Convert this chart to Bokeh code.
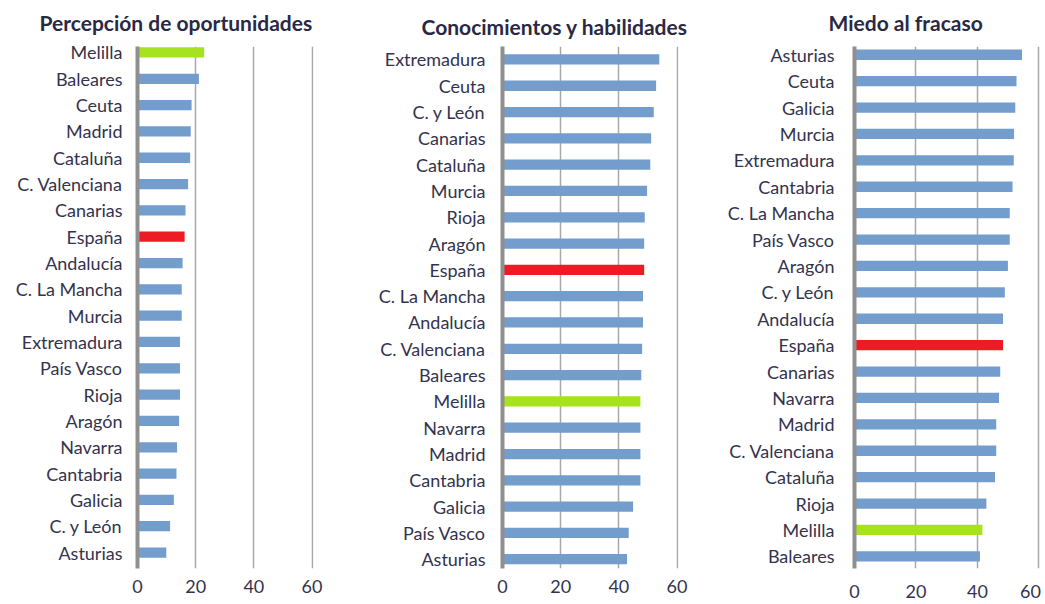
from bokeh.plotting import figure
from bokeh.layouts import row
from bokeh.models import FixedTicker, Title
from bokeh.embed import file_html
from bokeh.resources import INLINE

# ---- data (top to bottom as shown) ----
titles = ["Percepción de oportunidades", "Conocimientos y habilidades", "Miedo al fracaso"]

cats1 = ["Melilla", "Baleares", "Ceuta", "Madrid", "Cataluña", "C. Valenciana", "Canarias",
         "España", "Andalucía", "C. La Mancha", "Murcia", "Extremadura", "País Vasco", "Rioja",
         "Aragón", "Navarra", "Cantabria", "Galicia", "C. y León", "Asturias"]
vals1 = [22.9, 21.1, 18.6, 18.3, 18.1, 17.4, 16.5, 16.2, 15.5, 15.2, 15.2, 14.6, 14.6, 14.6,
         14.3, 13.6, 13.4, 12.5, 11.2, 9.9]

cats2 = ["Extremadura", "Ceuta", "C. y León", "Canarias", "Cataluña", "Murcia", "Rioja", "Aragón",
         "España", "C. La Mancha", "Andalucía", "C. Valenciana", "Baleares", "Melilla", "Navarra",
         "Madrid", "Cantabria", "Galicia", "País Vasco", "Asturias"]
vals2 = [53.9, 52.8, 52.0, 51.1, 50.8, 49.7, 48.9, 48.7, 48.7, 48.3, 48.3, 48.0, 47.7, 47.4, 47.4,
         47.4, 47.4, 44.9, 43.4, 42.8]

cats3 = ["Asturias", "Ceuta", "Galicia", "Murcia", "Extremadura", "Cantabria", "C. La Mancha",
         "País Vasco", "Aragón", "C. y León", "Andalucía", "España", "Canarias", "Navarra", "Madrid",
         "C. Valenciana", "Cataluña", "Rioja", "Melilla", "Baleares"]
vals3 = [54.5, 52.7, 52.3, 51.9, 51.8, 51.4, 50.5, 50.5, 49.9, 48.9, 48.3, 48.3, 47.4, 47.0, 46.1,
         46.1, 45.7, 42.9, 41.6, 40.8]

x_ticks = [0, 20, 40, 60]

BLUE = "#739DCD"
RED = "#ED1C24"
GREEN = "#A6E21E"
TXT = "#34334e"
TTL = "#2a2943"
FONT = "Lato"
H = 604
TOP = 46        # frame top (shared by the row)
BOT = 570       # frame bottom (shared by the row)
X_END = 60.5    # a little past 60 so that the 60 grid line is drawn


def color_for(c):
    if c == "España":
        return RED
    if c == "Melilla":
        return GREEN
    return BLUE


def panel(title, cats, vals, width, fl, px60, y_lo, y_hi, t_offset, t_standoff, t_valign,
          lab_standoff, tick_standoff, last_label="60"):
    n = len(cats)
    ys = [n - 1 - i for i in range(n)]
    fr = fl + px60 * X_END / 60.0
    p = figure(width=width, height=H, x_range=(0, X_END), y_range=(y_lo, y_hi),
               output_backend="svg", toolbar_location=None, title=None,
               min_border_left=fl, min_border_right=int(round(width - fr)),
               min_border_top=TOP, min_border_bottom=H - BOT)
    p.add_layout(Title(text=title, align="left", offset=t_offset, standoff=t_standoff,
                       vertical_align=t_valign,
                       text_font=FONT, text_font_size="21px", text_font_style="bold",
                       text_color=TTL), "above")
    p.hbar(y=ys, right=vals, left=0, height=0.39,
           fill_color=[color_for(c) for c in cats], line_color=None)
    p.outline_line_color = None
    # x grid / axis
    p.xgrid.ticker = FixedTicker(ticks=[20, 40, 60])
    p.xgrid.grid_line_color = "#a8a8a8"
    p.xgrid.grid_line_width = 1.5
    p.ygrid.grid_line_color = None
    p.xaxis.ticker = FixedTicker(ticks=x_ticks)
    p.xaxis.major_label_overrides = {60: last_label}
    p.xaxis.axis_line_color = None
    p.xaxis.major_tick_line_color = None
    p.xaxis.minor_tick_line_color = None
    p.xaxis.major_tick_out = 0
    p.xaxis.major_label_standoff = tick_standoff
    p.xaxis.major_label_text_font = FONT
    p.xaxis.major_label_text_font_size = "18px"
    p.xaxis.major_label_text_color = TXT
    # y axis with category labels
    p.yaxis.ticker = FixedTicker(ticks=ys)
    p.yaxis.major_label_overrides = {y: c for y, c in zip(ys, cats)}
    p.yaxis.axis_line_color = "#8f8f8f"
    p.yaxis.axis_line_width = 4
    p.yaxis.major_tick_line_color = None
    p.yaxis.minor_tick_line_color = None
    p.yaxis.major_tick_out = 0
    p.yaxis.major_label_standoff = lab_standoff
    p.yaxis.major_label_text_font = FONT
    p.yaxis.major_label_text_font_size = "18px"
    p.yaxis.major_label_text_color = TXT
    return p


# figure 1 spans page x 0..340, figure 2 340..700, figure 3 700..1045
p1 = panel(titles[0], cats1, vals1, 340, 137, 175, -0.606, 19.227, -98, 19, "top", 15, 11)
p2 = panel(titles[1], cats2, vals2, 360, 162, 175, -0.352, 19.492, -81, 16, "bottom", 17, 11)
p3 = panel(titles[2], cats3, vals3, 345, 154, 184, -0.46, 19.313, -26, 19, "top", 20, 11,
           last_label="60\u00a0")

layout = row(p1, p2, p3)
open("out.html", "w").write(file_html(layout, INLINE))
